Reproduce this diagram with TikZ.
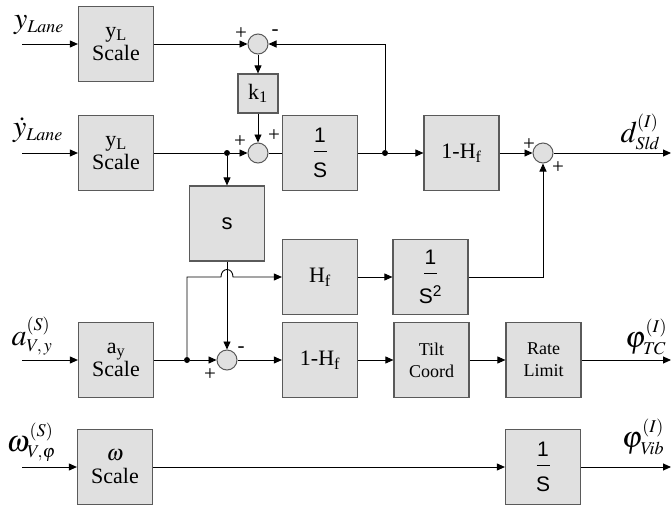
\documentclass[tikz,border=0pt]{standalone}
\usepackage{mathptmx}
\usepackage{fontspec}
\setmainfont{Liberation Serif}
\setsansfont{Liberation Sans}
\usetikzlibrary{arrows.meta, positioning}
\DeclareMathSizes{30}{30}{18}{13}
\definecolor{boxgray}{HTML}{E0E0E0}
\definecolor{edgegray}{HTML}{5A5A5A}
\newcommand{\frc}[1]{\vbox{\offinterlineskip\halign{\hfil##\hfil\cr 1\cr\noalign{\kern9pt}\rule{13pt}{0.8pt}\cr\noalign{\kern11pt}#1\cr}}}

\begin{document}
\begin{tikzpicture}[x=1pt, y=-1pt,
    box/.style={draw=edgegray, line width=1.2pt, fill=boxgray, minimum width=75pt, minimum height=75pt, align=center, inner sep=0pt, font=\fontsize{22}{23}\selectfont},
    small/.style={box, minimum width=40pt, minimum height=39pt},
    intbox/.style={box, font=\sffamily\fontsize{21}{24}\selectfont},
    sum/.style={draw=edgegray, line width=1pt, fill=boxgray, circle, minimum size=20pt, inner sep=0pt},
    dot/.style={fill, circle, minimum size=6pt, inner sep=0pt},
    sign/.style={font=\fontsize{21}{21}\selectfont, inner sep=0pt},
    lbl/.style={font=\fontsize{30}{30}\selectfont, inner sep=0pt},
    arrow/.style={-{Triangle[length=8pt, width=7pt]}, line width=0.9pt},
    line/.style={line width=0.9pt}
]
\useasboundingbox (0,0) rectangle (672,504);

% Scaling blocks
\node[box] (ysc1) at (116,44) {y\textsubscript{L}\\Scale};
\node[box] (ysc2) at (116,153) {y\textsubscript{L}\\Scale};
\node[box] (asc) at (116,360) {a\textsubscript{y}\\Scale};
\node[box] (wsc) at (115,467) {$\omega$\\Scale};

% Lane offset loop
\node[sum] (sum1) at (258,44) {};
\node[small] (k1) at (258,93.5) {k\textsubscript{1}};
\node[sum] (sum2) at (258,153) {};
\node[dot] (dot1) at (227,153) {};
\node[intbox] (int1) at (320,153) {\frc{S}};
\node[dot] (dot2) at (385,153) {};
\node[box] (hp1) at (461.5,153) {1-H\textsubscript{f}};
\node[sum] (sum3) at (543,153) {};

% Lateral acceleration path
\node[box, font=\sffamily\fontsize{22}{22}\selectfont] (diff) at (227,223.5) {s};
\node[box] (lp) at (320,277) {H\textsubscript{f}};
\node[intbox] (int2) at (430.5,277) {\frc{S\textsuperscript{2}}};
\node[dot] (dot3) at (187,360) {};
\node[sum] (sum4) at (227,360) {};
\node[box] (hp2) at (320,360) {1-H\textsubscript{f}};
\node[box, font=\fontsize{18}{22}\selectfont] (tilt) at (431.5,360) {Tilt\\Coord};
\node[box, font=\fontsize{18}{22}\selectfont] (rate) at (543.5,360) {Rate\\Limit};

% Roll rate path
\node[intbox] (int3) at (543,467) {\frc{S}};

% In and out points
\coordinate (in1) at (22,44);
\coordinate (in2) at (22,153);
\coordinate (in4) at (22,360);
\coordinate (in5) at (22,467);
\coordinate (out1) at (671,153);
\coordinate (out4) at (671,360);
\coordinate (out5) at (671,467);
\coordinate (hop1) at (221,277);
\coordinate (hop2) at (233,277);

% Signal names
\node[lbl] (lane) at (39,25) {$y_{\mathit{Lane}}$};
\node[lbl] (lanedot) at (38,130) {$\dot{y}_{\mathit{Lane}}$};
\node[lbl] (accel) at (32,336) {$a^{(S)}_{V\!,\,y}$};
\node[lbl] (rollrate) at (31,442) {$\omega^{(S)}_{V\!,\varphi}$};
\node[lbl] (slide) at (640,132) {$d^{(I)}_{\mathit{Sld}}$};
\node[lbl] (tiltout) at (646,337) {$\varphi^{(I)}_{\mathit{TC}}$};
\node[lbl] (vibout) at (643,437) {$\varphi^{(I)}_{\mathit{Vib}}$};

% Signs at the junctions
\node[sign] (s1a) at (241,34) {+};
\node[sign] (s1b) at (275,33) {-};
\node[sign] (s2a) at (240,142) {+};
\node[sign] (s2b) at (274,136) {+};
\node[sign] (s3a) at (529,145) {+};
\node[sign] (s3b) at (558,168) {+};
\node[sign] (s4a) at (241,350) {-};
\node[sign] (s4b) at (210,375) {+};

% Connectors
\draw[arrow] (in1) -- (ysc1);
\draw[arrow] (ysc1) -- (sum1);
\draw[arrow] (sum1) -- (k1);
\draw[arrow] (k1) -- (sum2);
\draw[arrow] (in2) -- (ysc2);
\draw[line] (ysc2) -- (dot1);
\draw[arrow] (dot1) -- (sum2);
\draw[arrow] (dot1) -- (diff);
\draw[line] (sum2) -- (int1);
\draw[line] (int1) -- (dot2);
\draw[arrow] (dot2) -- (hp1);
\draw[arrow] (dot2) |- (sum1);
\draw[arrow] (hp1) -- (sum3);
\draw[arrow] (sum3) -- (out1);
\draw[arrow] (int2) -| (sum3);
\draw[arrow] (diff) -- (sum4);
\draw[arrow] (in4) -- (asc);
\draw[line] (asc) -- (dot3);
\draw[arrow] (dot3) -- (sum4);
\draw[arrow] (dot3) |- (hop1) .. controls +(0,-10) and +(0,-10) .. (hop2) -- (lp);
\draw[arrow] (lp) -- (int2);
\draw[arrow] (sum4) -- (hp2);
\draw[arrow] (hp2) -- (tilt);
\draw[arrow] (tilt) -- (rate);
\draw[arrow] (rate) -- (out4);
\draw[arrow] (in5) -- (wsc);
\draw[arrow] (wsc) -- (int3);
\draw[arrow] (int3) -- (out5);
\end{tikzpicture}
\end{document}
